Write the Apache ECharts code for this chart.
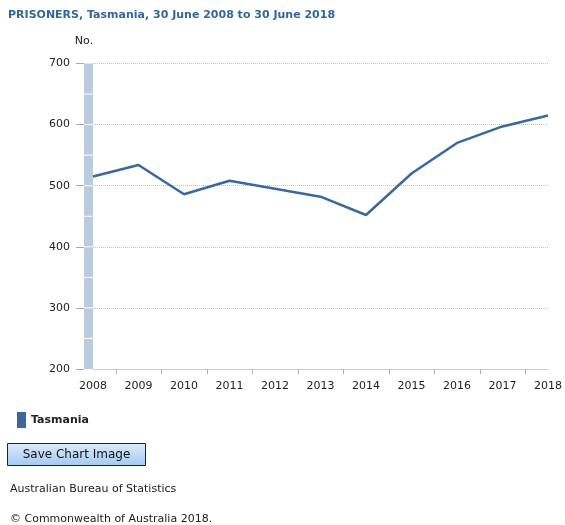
<!DOCTYPE html>
<html>
<head>
<meta charset="utf-8">
<script src="https://cdn.jsdelivr.net/npm/echarts@6/dist/echarts.min.js"></script>
<style>
html,body{margin:0;padding:0;background:#fff;}
#chart{width:565px;height:525px;}
</style>
</head>
<body>
<div id="chart"></div>
<script>
const years = ['2008','2009','2010','2011','2012','2013','2014','2015','2016','2017','2018'];
const tasmania = [515, 534, 486, 508, 495, 482, 452, 520, 570, 597, 615];
const yTicks = [200, 300, 400, 500, 600, 700];
const wallLines = [250, 300, 350, 400, 450, 500, 550, 600, 650];

const FONT = '"DejaVu Sans", Verdana, sans-serif';
const chart = echarts.init(document.getElementById('chart'));

chart.setOption({
  animation: false,
  backgroundColor: '#ffffff',
  textStyle: { fontFamily: FONT },
  title: {
    text: 'PRISONERS, Tasmania, 30 June 2008 to 30 June 2018',
    left: 3, top: 5,
    textStyle: { fontSize: 11, fontWeight: 'bold', color: '#336699', fontFamily: FONT }
  },
  legend: {
    left: 12, top: 407,
    icon: 'rect', itemWidth: 9, itemHeight: 16, itemGap: 6,
    data: ['Tasmania'],
    textStyle: { fontSize: 11, fontWeight: 'bold', color: '#222', fontFamily: FONT }
  },
  grid: { left: 93, right: 17, top: 63.5, bottom: 156, containLabel: false },
  xAxis: {
    type: 'category',
    data: years,
    boundaryGap: false,
    axisLine: { show: true, lineStyle: { color: '#c0c0c0', type: 'dotted', width: 1 } },
    axisTick: { show: false },
    axisLabel: { color: '#222', fontSize: 11, margin: 12, fontFamily: FONT },
    splitLine: { show: false }
  },
  yAxis: {
    type: 'value',
    min: 200, max: 700, interval: 100,
    offset: 9,
    name: 'No.',
    nameLocation: 'end',
    nameGap: 17,
    nameTextStyle: { color: '#222', fontSize: 11, fontFamily: FONT, align: 'center' },
    axisLine: { show: false },
    axisTick: { show: true, length: 8, lineStyle: { color: '#a0a8bc', type: 'solid' } },
    axisLabel: { color: '#222', fontSize: 11, margin: 14, fontFamily: FONT },
    splitLine: { show: true, lineStyle: { color: '#c4c4c4', type: 'dotted', width: 1 } }
  },
  graphic: [
    {
      type: 'group', left: 7, top: 443,
      children: [
        { type: 'rect', shape: { x: 0, y: 0, width: 138, height: 22 },
          style: { fill: new echarts.graphic.LinearGradient(0, 0, 0, 1, [
            { offset: 0, color: '#dcebfc' }, { offset: 1, color: '#a3c9f3' }]),
            stroke: '#222', lineWidth: 1 } },
        { type: 'text', style: { x: 69, y: 11, text: 'Save Chart Image', align: 'center', verticalAlign: 'middle',
            fill: '#111', font: '12px ' + FONT } }
      ]
    },
    { type: 'text', left: 10, top: 484, style: { text: 'Australian Bureau of Statistics', fill: '#222', font: '11px ' + FONT } },
    { type: 'text', left: 10, top: 514, style: { text: '© Commonwealth of Australia 2018.', fill: '#222', font: '11px ' + FONT } }
  ],
  series: [
    {
      name: 'wall',
      type: 'custom',
      silent: true,
      z: 1,
      data: [[0, 200]],
      renderItem: function (params, api) {
        const top = api.coord([0, 700]);
        const bot = api.coord([0, 200]);
        const children = [{
          type: 'rect',
          shape: { x: top[0] - 9, y: top[1], width: 9, height: bot[1] - top[1] },
          style: { fill: '#bccade' }
        }];
        wallLines.forEach(function (v) {
          const p = api.coord([0, v]);
          children.push({ type: 'line', shape: { x1: p[0] - 9, y1: p[1], x2: p[0], y2: p[1] },
            style: { stroke: '#ffffff', lineWidth: 1 } });
        });
        return { type: 'group', children: children };
      }
    },
    {
      name: 'xticks',
      type: 'custom',
      silent: true,
      z: 1,
      data: years.slice(0, years.length - 1).map(function (y, i) { return [i, 200]; }),
      renderItem: function (params, api) {
        const i = api.value(0);
        const a = api.coord([i, 200]);
        const b = api.coord([i + 1, 200]);
        const x = Math.round((a[0] + b[0]) / 2) + 0.5;
        return { type: 'line', shape: { x1: x, y1: a[1], x2: x, y2: a[1] + 5 },
          style: { stroke: '#a8b0c0', lineWidth: 1 } };
      }
    },
    {
      name: 'Tasmania',
      type: 'line',
      data: tasmania,
      z: 3,
      showSymbol: false,
      symbol: 'none',
      lineStyle: { color: '#39689f', width: 2.5 },
      itemStyle: { color: '#39689f' }
    }
  ]
});
</script>
</body>
</html>
